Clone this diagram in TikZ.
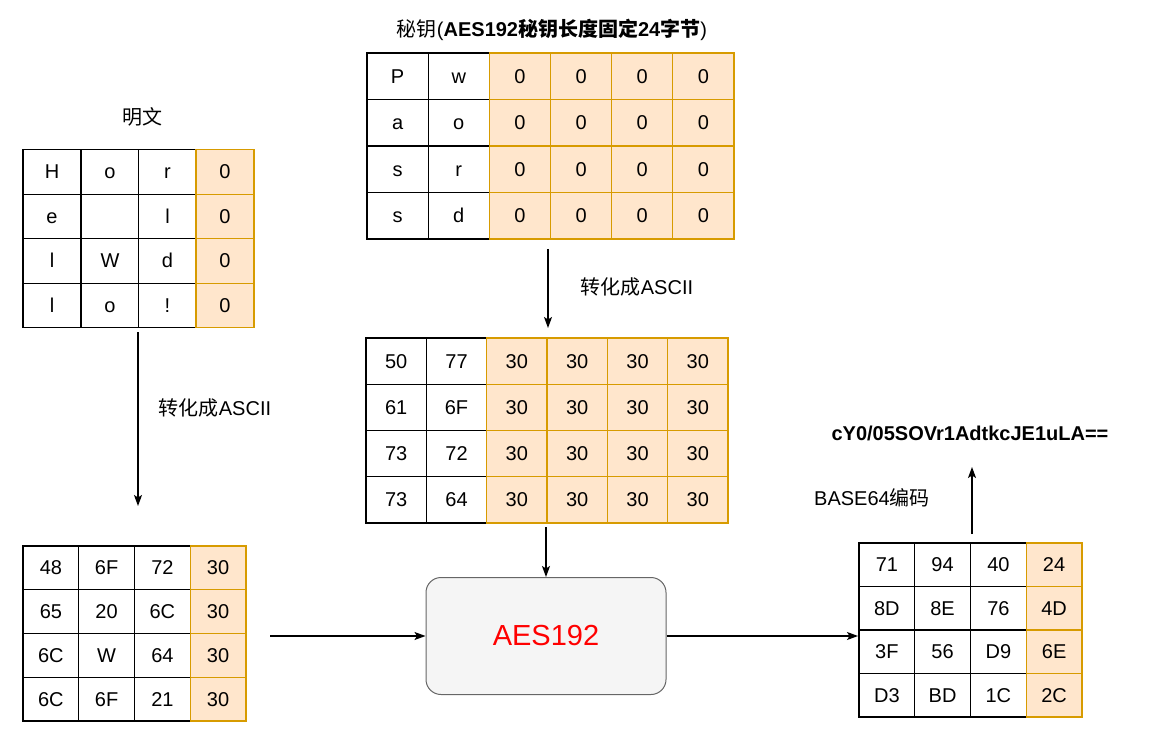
\documentclass[tikz,border=0pt]{standalone}
\usepackage{fontspec}
\usetikzlibrary{arrows.meta}
\setmainfont{Liberation Sans}
\newfontfamily\cjk{Noto Sans CJK SC}
\definecolor{padfill}{HTML}{FFE6CC}
\definecolor{padline}{HTML}{D79B00}
\definecolor{enginefill}{HTML}{F5F5F5}
\definecolor{engineline}{HTML}{666666}
\begin{document}
\begin{tikzpicture}[x=1pt,y=-1pt]
		\tikzstyle{Cell} = [rectangle, inner sep=0pt, text centered, text height=14pt, text depth=0pt, draw=black, fill=white, line width=1.2pt, font=\fontsize{20}{24}\selectfont]
		\tikzstyle{PadCell} = [Cell, draw=padline, fill=padfill]
		\tikzstyle{Engine} = [rectangle, rounded corners=15pt, minimum width=240pt, minimum height=117pt, draw=engineline, fill=enginefill, line width=1pt, text=red, font=\fontsize{29}{34}\selectfont]
		\tikzstyle{Label} = [font=\fontsize{20}{24}\selectfont]
		\tikzstyle{arrow} = [line width=1.2pt,->,>={Stealth[length=11pt,width=8pt,inset=2.5pt]}]

		\useasboundingbox (0,0) rectangle (1154,738);

		% plaintext
		\node (plainTitle) [Label] at (142,117) {\cjk 明文};
		\foreach \r/\a/\b/\c in {1/H/o/r, 2/e/{}/l, 3/l/W/d, 4/l/o/!} {
			\node (plain-\r-1) [Cell, minimum width=58pt, minimum height=44.5pt] at (52,{172+(\r-1)*44.5}) {\a};
			\node (plain-\r-2) [Cell, minimum width=58pt, minimum height=44.5pt] at (110,{172+(\r-1)*44.5}) {\b};
			\node (plain-\r-3) [Cell, minimum width=58pt, minimum height=44.5pt] at (167.5,{172+(\r-1)*44.5}) {\c};
			\node (plain-\r-4) [PadCell, minimum width=58pt, minimum height=44.5pt] at (225,{172+(\r-1)*44.5}) {0};
		}

		% key
		\node (keyTitle) [Label] at (552,30) {{\cjk 秘钥}(\textbf{AES192{\cjk 秘钥长度固定}24{\cjk 字节}})};
		\foreach \r/\a/\b in {1/P/w, 2/a/o, 3/s/r, 4/s/d} {
			\node (key-\r-1) [Cell, minimum width=61.2pt, minimum height=46.5pt] at (397.6,{76.25+(\r-1)*46.5}) {\a};
			\node (key-\r-2) [Cell, minimum width=61.2pt, minimum height=46.5pt] at (458.8,{76.25+(\r-1)*46.5}) {\b};
			\foreach \c in {3,...,6}
				\node (key-\r-\c) [PadCell, minimum width=61.2pt, minimum height=46.5pt] at ({397.6+(\c-1)*61.17},{76.25+(\r-1)*46.5}) {0};
		}

		% key in ascii
		\foreach \r/\a/\b in {1/50/77, 2/61/6F, 3/73/72, 4/73/64} {
			\node (keyHex-\r-1) [Cell, minimum width=60.3pt, minimum height=46.25pt] at (396.2,{361.1+(\r-1)*46.25}) {\a};
			\node (keyHex-\r-2) [Cell, minimum width=60.3pt, minimum height=46.25pt] at (456.5,{361.1+(\r-1)*46.25}) {\b};
			\foreach \c in {3,...,6}
				\node (keyHex-\r-\c) [PadCell, minimum width=60.3pt, minimum height=46.25pt] at ({396.2+(\c-1)*60.33},{361.1+(\r-1)*46.25}) {30};
		}

		% plaintext in ascii
		\foreach \r/\a/\b/\c in {1/48/6F/72, 2/65/20/6C, 3/6C/W/64, 4/6C/6F/21} {
			\node (plainHex-\r-1) [Cell, minimum width=55.75pt, minimum height=43.75pt] at (50.9,{567.9+(\r-1)*43.75}) {\a};
			\node (plainHex-\r-2) [Cell, minimum width=55.75pt, minimum height=43.75pt] at (106.6,{567.9+(\r-1)*43.75}) {\b};
			\node (plainHex-\r-3) [Cell, minimum width=55.75pt, minimum height=43.75pt] at (162.4,{567.9+(\r-1)*43.75}) {\c};
			\node (plainHex-\r-4) [PadCell, minimum width=55.75pt, minimum height=43.75pt] at (218.1,{567.9+(\r-1)*43.75}) {30};
		}

		% cipher
		\foreach \r/\a/\b/\c/\d in {1/71/94/40/24, 2/8D/8E/76/4D, 3/3F/56/D9/6E, 4/D3/BD/1C/2C} {
			\node (cipher-\r-1) [Cell, minimum width=55.75pt, minimum height=43.5pt] at (886.9,{564.75+(\r-1)*43.5}) {\a};
			\node (cipher-\r-2) [Cell, minimum width=55.75pt, minimum height=43.5pt] at (942.6,{564.75+(\r-1)*43.5}) {\b};
			\node (cipher-\r-3) [Cell, minimum width=55.75pt, minimum height=43.5pt] at (998.4,{564.75+(\r-1)*43.5}) {\c};
			\node (cipher-\r-4) [PadCell, minimum width=55.75pt, minimum height=43.5pt] at (1054.1,{564.75+(\r-1)*43.5}) {\d};
		}

		\node (aes) [Engine] at (546,636) {AES192};
		\node (plainLabel) [Label] at (215,408) {{\cjk 转化成}ASCII};
		\node (keyLabel) [Label] at (637,287) {{\cjk 转化成}ASCII};
		\node (baseLabel) [Label] at (872,498) {BASE64{\cjk 编码}};
		\node (result) [Label, font=\fontsize{20}{24}\selectfont\bfseries] at (970,433) {cY0/05SOVr1AdtkcJE1uLA==};

		\coordinate (plainFrom) at (138,332);
		\coordinate (plainTo) at (138,506);
		\coordinate (keyFrom) at (548,249);
		\coordinate (keyTo) at (548,328);
		\coordinate (keyHexFrom) at (546,527);
		\coordinate (plainHexFrom) at (270,636);
		\coordinate (cipherTo) at (858,636);
		\coordinate (cipherFrom) at (972,534);
		\coordinate (resultTo) at (972,467);
		\draw [arrow] (plainFrom) -- (plainTo);
		\draw [arrow] (keyFrom) -- (keyTo);
		\draw [arrow] (keyHexFrom) -- (aes.north);
		\draw [arrow] (plainHexFrom) -- (aes.west);
		\draw [arrow] (aes.east) -- (cipherTo);
		\draw [arrow] (cipherFrom) -- (resultTo);
		\end{tikzpicture}
\end{document}
